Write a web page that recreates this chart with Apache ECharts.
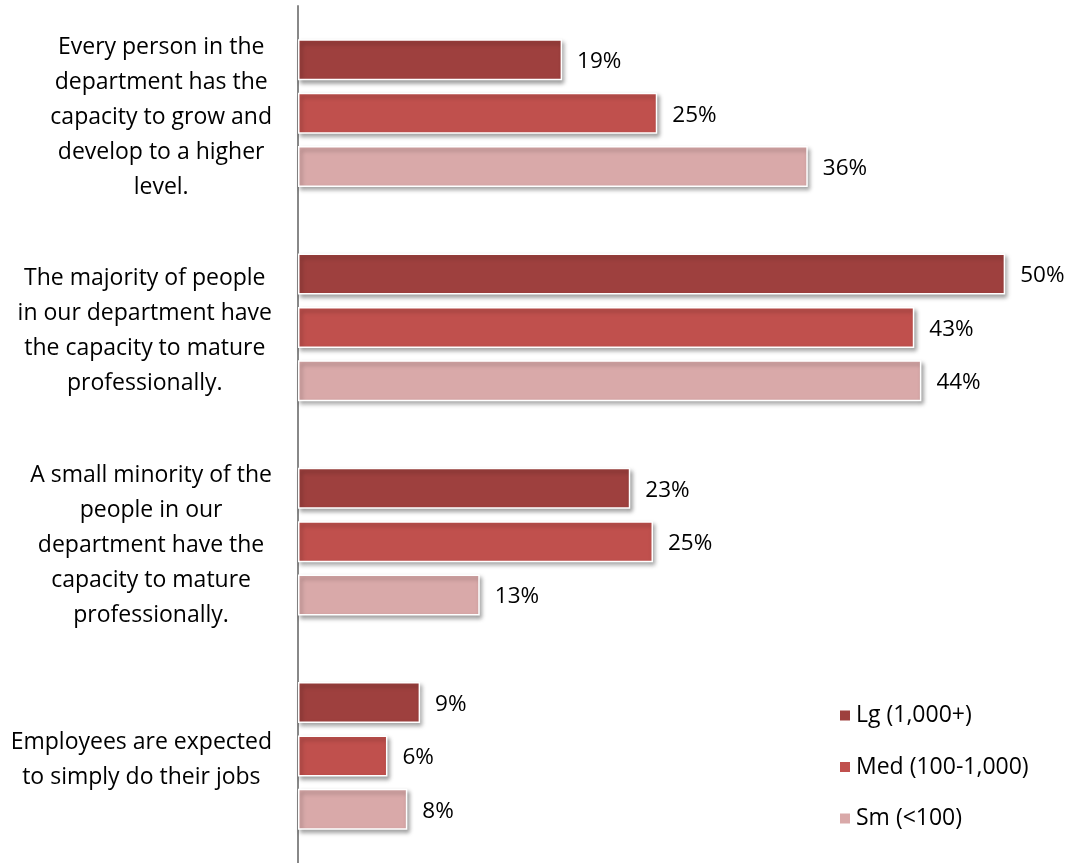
<!DOCTYPE html>
<html>
<head>
<meta charset="utf-8">
<script src="https://cdn.jsdelivr.net/npm/echarts@6/dist/echarts.min.js"></script>
<style>html,body{margin:0;padding:0;background:#fff;}#c{width:1070px;height:863px;}</style>
</head>
<body>
<div id="c"></div>
<script>
const categories = [
  "Every person in the\ndepartment has the\ncapacity to grow and\ndevelop to a higher\nlevel.",
  "The majority of people\nin our department have\nthe capacity to mature\nprofessionally.",
  "A small minority of the\npeople in our\ndepartment have the\ncapacity to mature\nprofessionally.",
  "Employees are expected\nto simply do their jobs"
];
const seriesNames = ["Lg (1,000+)", "Med (100-1,000)", "Sm (<100)"];
const lgValues  = [18.6, 49.8, 23.4, 8.6];
const medValues = [25.3, 43.4, 25.0, 6.3];
const smValues  = [35.9, 43.9, 12.8, 7.7];
const colors = ["#9e403e", "#c0504d", "#d9a9a9"];

const FONT = "Open Sans";
const FS = 23;
const chart = echarts.init(document.getElementById('c'), null, {renderer: 'canvas'});
function mk(name, data, color) {
  return {
    name: name,
    type: 'bar',
    data: data,
    barWidth: 41,
    barGap: '30%',
    itemStyle: {
      color: color,
      borderColor: '#ffffff',
      borderWidth: 1.5,
      shadowBlur: 4,
      shadowOffsetX: 2,
      shadowOffsetY: 3,
      shadowColor: 'rgba(0,0,0,0.35)'
    },
    label: {
      show: true,
      position: 'right',
      distance: 15,
      offset: [0, 2],
      color: '#000',
      fontFamily: FONT,
      fontSize: 22.5,
      formatter: p => Math.round(p.value) + '%'
    }
  };
}
chart.setOption({
  backgroundColor: '#fff',
  animation: false,
  grid: {left: 298, right: 62, top: 6, bottom: -2, containLabel: false},
  legend: {
    orient: 'vertical',
    left: 833,
    top: 699,
    icon: 'rect',
    itemWidth: 12,
    itemHeight: 12,
    itemGap: 28.5,
    textStyle: {fontFamily: FONT, fontSize: FS, color: '#000'},
    data: seriesNames
  },
  xAxis: {
    type: 'value',
    min: 0,
    max: 50,
    show: false
  },
  yAxis: {
    type: 'category',
    inverse: true,
    data: categories,
    axisLine: {show: true, lineStyle: {color: '#888888', width: 2}},
    axisTick: {show: false},
    axisLabel: {
      margin: 26,
      align: 'right',
      padding: [8, 0, 0, 0],
      formatter: v => v.split('\n').map(s => '{c|' + s + '}').join('\n'),
      rich: {
        c: {align: 'center', fontFamily: FONT, fontSize: FS, color: '#000', lineHeight: 35}
      }
    }
  },
  series: [
    mk(seriesNames[0], lgValues, colors[0]),
    mk(seriesNames[1], medValues, colors[1]),
    mk(seriesNames[2], smValues, colors[2])
  ]
});
</script>
</body>
</html>
